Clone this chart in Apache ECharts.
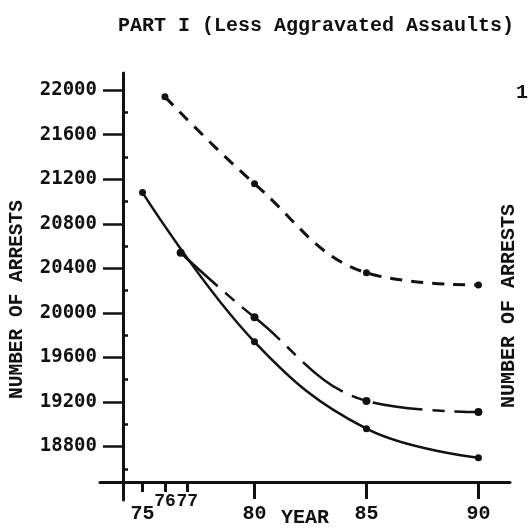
<!DOCTYPE html>
<html>
<head>
<meta charset="utf-8">
<script src="https://cdn.jsdelivr.net/npm/echarts/dist/echarts.min.js"></script>
<style>
  html, body { margin: 0; padding: 0; background: #fff; }
  #chart { width: 528px; height: 528px; }
</style>
</head>
<body>
<div id="chart"></div>
<script>
// values
const yearsDashed = [76, 80, 85, 90];
const arrestsDashed = [21940, 21160, 20360, 20250];

const yearsDashDot = [76.7, 80, 85, 90];
const arrestsDashDot = [20540, 19960, 19210, 19110];

const yearsSolid = [75, 80, 85, 90];
const arrestsSolid = [21080, 19740, 18960, 18700];

const yTickLabels = [18800, 19200, 19600, 20000, 20400, 20800, 21200, 21600, 22000];
const yMinorTicks = [18600, 19000, 19400, 19800, 20200, 20600, 21000, 21400, 21800];
const xMainLabels = [75, 80, 85, 90];
const xMainTicks = [80, 85, 90];
const xSmallTicks = [75, 76, 77];
const xRaisedLabels = [76, 77];

const INK = "#111";
const MONO = "'Liberation Mono', 'Courier New', monospace";
const pairs = (xs, ys) => xs.map((x, i) => [x, ys[i]]);

const chart = echarts.init(document.getElementById("chart"));

const Y_MIN = 18320, Y_MAX = 22154;
const X_MIN = 73.1, X_MAX = 91.41;

const option = {
  backgroundColor: "#fff",
  animation: false,
  title: {
    text: "PART I (Less Aggravated Assaults)",
    left: 113,
    top: 11,
    textStyle: { fontFamily: MONO, fontSize: 20, fontWeight: "bold", color: INK },
  },
  grid: { left: 100, right: 18, top: 73, bottom: 28, outerBoundsMode: "none", containLabel: false },
  xAxis: [
    {
      type: "value",
      min: X_MIN,
      max: X_MAX,
      offset: -18,
      name: "YEAR",
      nameLocation: "middle",
      nameGap: 26,
      nameMoveOverlap: false,
      nameTextStyle: { fontFamily: MONO, fontSize: 20, fontWeight: "bold", color: INK },
      axisLine: { onZero: false, lineStyle: { color: INK, width: 3 } },
      axisTick: { show: true, customValues: xMainTicks, length: 17, lineStyle: { color: INK, width: 3 } },
      axisLabel: { customValues: xMainLabels, margin: 22, fontFamily: MONO, fontSize: 20, fontWeight: "bold", color: INK },
      splitLine: { show: false },
    },
    {
      type: "value",
      min: X_MIN,
      max: X_MAX,
      position: "bottom",
      offset: -18,
      axisLine: { show: false, onZero: false },
      axisTick: { show: true, customValues: xSmallTicks, length: 10, lineStyle: { color: INK, width: 3 } },
      axisLabel: {
        customValues: xRaisedLabels,
        hideOverlap: false,
        showMinLabel: true,
        showMaxLabel: true,
        margin: 10,
        fontFamily: MONO,
        fontSize: 18,
        fontWeight: "bold",
        color: INK,
      },
      splitLine: { show: false },
    },
  ],
  yAxis: [
    {
      type: "value",
      min: Y_MIN,
      max: Y_MAX,
      offset: -23,
      name: "NUMBER OF ARRESTS",
      nameLocation: "middle",
      nameGap: 96,
      nameMoveOverlap: false,
      nameTextStyle: { fontFamily: MONO, fontSize: 19.5, fontWeight: "bold", color: INK, padding: [0, 26, 0, 0] },
      axisLine: { onZero: false, lineStyle: { color: INK, width: 3 } },
      axisTick: { show: true, customValues: yTickLabels, length: 20, lineStyle: { color: INK, width: 2.5 } },
      axisLabel: {
        customValues: yTickLabels,
        formatter: (v) => String(v),
        margin: 26,
        fontFamily: "'DejaVu Sans Mono', monospace",
        fontSize: 19,
        fontWeight: "bold",
        color: INK,
      },
      splitLine: { show: false },
    },
    {
      type: "value",
      min: Y_MIN,
      max: Y_MAX,
      position: "left",
      offset: -23,
      axisLine: { show: false, onZero: false },
      axisTick: { show: true, inside: true, customValues: yMinorTicks, length: 5, lineStyle: { color: INK, width: 2.5 } },
      axisLabel: { show: false },
      splitLine: { show: false },
    },
  ],
  series: [
    {
      type: "line",
      data: pairs(yearsDashed, arrestsDashed),
      smooth: 0.4,
      symbol: "circle",
      symbolSize: 7,
      itemStyle: { color: INK },
      lineStyle: { color: INK, width: 3, type: [12, 9] },
    },
    {
      type: "line",
      data: pairs(yearsDashDot, arrestsDashDot),
      smooth: 0.4,
      symbol: "circle",
      symbolSize: 8,
      itemStyle: { color: INK },
      lineStyle: { color: INK, width: 2.5, type: [50, 10, 12, 10] },
    },
    {
      type: "line",
      data: pairs(yearsSolid, arrestsSolid),
      smooth: 0.4,
      symbol: "circle",
      symbolSize: 7,
      itemStyle: { color: INK },
      lineStyle: { color: INK, width: 2.5 },
    },
  ],
  graphic: [
    {
      type: "text",
      x: 509,
      y: 306,
      rotation: Math.PI / 2,
      style: {
        text: "NUMBER OF ARRESTS",
        font: "bold 20px " + MONO,
        fill: INK,
        align: "center",
        verticalAlign: "middle",
      },
    },
    {
      type: "text",
      x: 516,
      y: 93,
      style: { text: "1", font: "bold 20px " + MONO, fill: INK, verticalAlign: "middle" },
    },
  ],
};

chart.setOption(option);
</script>
</body>
</html>
